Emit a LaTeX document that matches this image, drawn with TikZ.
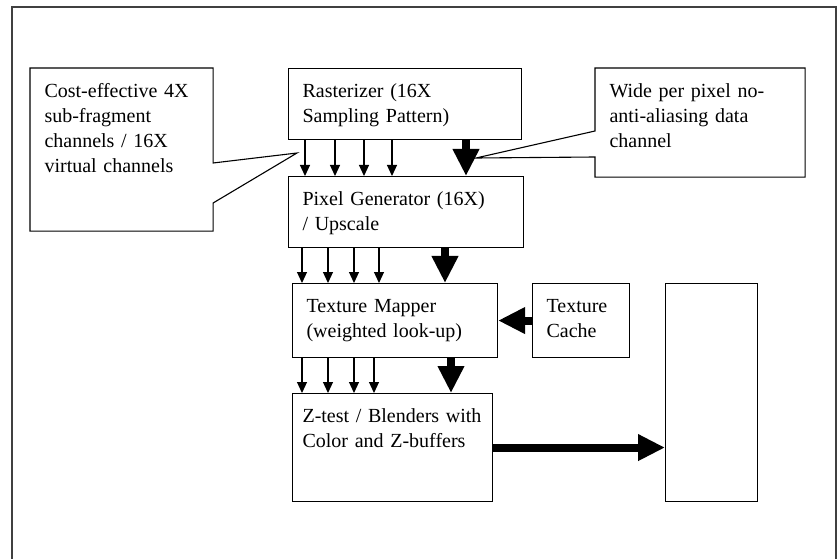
\documentclass[tikz,border=0pt]{standalone}
\usepackage{fontspec}
\setmainfont{Liberation Serif}
\usetikzlibrary{positioning, arrows.meta, calc}

\begin{document}
\begin{tikzpicture}[
      x=1pt, y=-1pt,
      every node/.style={font=\fontsize{20}{25}\selectfont},
      block/.style={draw, line width=1.1pt, anchor=north west, align=left,
                    inner xsep=14pt, inner ysep=15pt, text height=14pt},
      callout/.style={block, draw=none},
      wire/.style={-{Triangle[length=11pt, width=10pt]}, line width=1.1pt},
      bus/.style={-{Triangle[length=27pt, width=25pt]}, line width=8pt},
    ]
    \useasboundingbox (0,0) rectangle (839,559);
    \draw[line width=1.2pt, black!75] (12,559) -- (12,7) -- (836,7) -- (836,559);

    \node[callout, text width=154pt, text depth=118pt] (cost) at (30,68)
      {Cost-effective 4X\\sub-fragment\\channels / 16X\\virtual channels};
    \node[block, text width=205pt, text depth=27pt] (rast) at (288,68)
      {Rasterizer (16X\\Sampling Pattern)};
    \node[callout, text width=181pt, text depth=64pt] (wide) at (595,68)
      {Wide per pixel no-\\anti-aliasing data\\channel};
    \node[block, text width=207pt, text depth=27pt] (pixgen) at (288,176)
      {Pixel Generator (16X)\\/ Upscale};
    \node[block, text width=177pt, text depth=30pt] (texmap) at (292,283)
      {Texture Mapper\\(weighted look-up)};
    \node[block, text width=69pt, text depth=30pt] (cache) at (532,283)
      {Texture\\Cache};
    \node[block, inner xsep=10pt, text width=180pt, text depth=64pt] (ztest) at (292,393)
      {Z-test / Blenders with\\Color and Z-buffers};
    \node[block, text width=64pt, text depth=174pt] (fbuf) at (665,283) {};

    % callout outlines
    \coordinate (tipL) at (297,153);
    \coordinate (tipR) at (476,158);
    \draw[line width=1.1pt] (cost.north west) -- (cost.north east)
      -- ($(cost.north east)+(0,95)$) -- (tipL) -- ($(cost.north east)+(0,135)$)
      -- (cost.south east) -- (cost.south west) -- cycle;
    \draw[line width=1.1pt] (wide.north east) -- (wide.north west)
      -- ($(wide.north west)+(0,63)$) -- (tipR) -- ($(wide.north west)+(0,89)$)
      -- (wide.south west) -- (wide.south east) -- cycle;

    % sub-fragment channels
    \foreach \x in {305,335,364,392}
      \draw[wire] (\x,0 |- rast.south) -- (\x,0 |- pixgen.north);
    \foreach \x in {302,328,354,379}
      \draw[wire] (\x,0 |- pixgen.south) -- (\x,0 |- texmap.north);
    \foreach \x in {302,328,354,374}
      \draw[wire] (\x,0 |- texmap.south) -- (\x,0 |- ztest.north);

    % wide data channel
    \draw[bus] (466,0 |- rast.south) -- (466,0 |- pixgen.north);
    \draw[bus] (445,0 |- pixgen.south) -- (445,0 |- texmap.north);
    \draw[bus] (451,0 |- texmap.south) -- (451,0 |- ztest.north);
    \draw[bus] (cache.west) -- (texmap.east);
    \draw[bus] (ztest.east) -- (ztest.east -| fbuf.west);
  \end{tikzpicture}
\end{document}
